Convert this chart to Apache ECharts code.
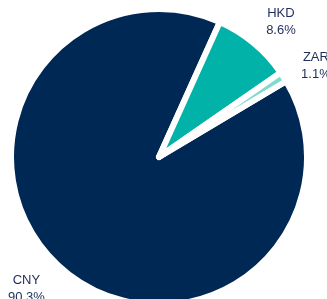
<!DOCTYPE html>
<html>
<head>
<meta charset="utf-8">
<script src="https://cdn.jsdelivr.net/npm/echarts@6/dist/echarts.min.js"></script>
<style>
html,body{margin:0;padding:0;background:#fff;}
#chart{width:327px;height:299px;}
</style>
</head>
<body>
<div id="chart"></div>
<script>
const categories = ['CNY', 'HKD', 'ZAR'];
const shares = [90.3, 8.6, 1.1];
const colors = ['#002855', '#00b2a7', '#7fdad0'];

const pieData = categories.map((c, i) => ({ name: c, value: shares[i], itemStyle: { color: colors[i] } }));
const labelData = categories.map((c, i) => ({ name: c, value: shares[i] }));

const chart = echarts.init(document.getElementById('chart'), null, { renderer: 'canvas' });
chart.setOption({
  animation: false,
  series: [
    {
      type: 'pie',
      center: [159, 157],
      radius: [0, 148],
      startAngle: 30.8,
      clockwise: true,
      silent: true,
      label: { show: false },
      labelLine: { show: false },
      itemStyle: { borderColor: '#ffffff', borderWidth: 6 },
      data: pieData
    },
    {
      type: 'pie',
      center: [156, 158],
      radius: [144.4, 218.4],
      startAngle: 27.9,
      clockwise: true,
      silent: true,
      itemStyle: { color: 'rgba(0,0,0,0)', borderWidth: 0 },
      labelLine: { show: false },
      label: {
        show: true,
        position: 'inside',
        rotate: 0,
        color: '#1f2d5a',
        fontFamily: '"Liberation Sans", Arial, sans-serif',
        fontSize: 13,
        lineHeight: 17,
        align: 'center',
        formatter: p => p.name + '\n' + p.value.toFixed(1) + '%'
      },
      data: labelData
    }
  ]
});
</script>
</body>
</html>
